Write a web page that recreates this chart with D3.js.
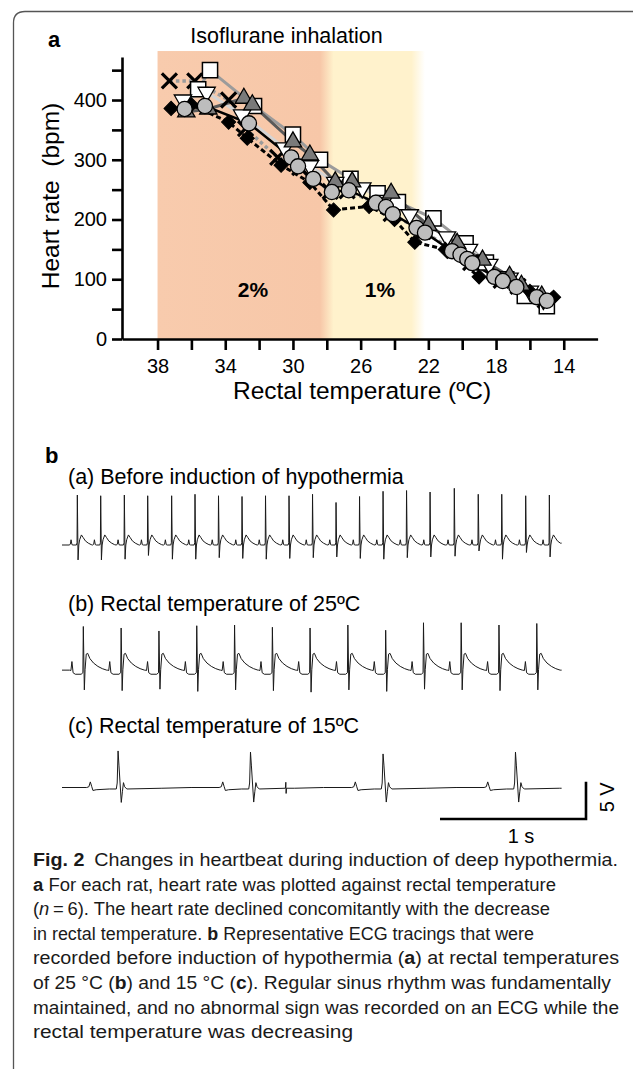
<!DOCTYPE html>
<html>
<head>
<meta charset="utf-8">
<script src="https://cdn.jsdelivr.net/npm/d3@7"></script>
<style>
  body { margin: 0; background: #fff; }
  text { font-family: "Liberation Sans", Arial, sans-serif; }
</style>
</head>
<body>
<div id="chart"></div>
<script>
// ---------- panel a data ----------
const xTicks = [38, 36, 34, 32, 30, 28, 26, 24, 22, 20, 18, 16, 14];
const xTickLabels = [38, 34, 30, 26, 22, 18, 14];
const yTicks = [0, 50, 100, 150, 200, 250, 300, 350, 400, 450];
const yTickLabels = [0, 100, 200, 300, 400];

// isoflurane shading (temperatures where the colour changes)
const shadeTemps = [38, 28.4, 27.6, 23.0, 22.2];
const shadeColors = ['#f8cbad', '#f7c7a8', '#fff2cc', '#fff2cc', '#ffffff'];

// rat 1 - crosses
const crossTemp = [37.3, 35.8, 33.8, 32.8, 30.9, 29.6, 27.8, 26.8, 25.0, 24.2, 22.3, 20.5, 19.5, 17.7, 16.7, 15.1];
const crossHr   = [432, 432, 400, 352, 304, 287, 247, 248, 227, 210, 180, 148, 128, 98, 88, 65];
// rat 2 - white squares
const squareTemp = [35.6, 34.9, 32.3, 30.0, 28.4, 26.6, 25.0, 23.8, 21.7, 19.8, 18.6, 17.4, 16.3, 15.0];
const squareHr   = [418, 450, 390, 342, 300, 268, 244, 229, 202, 160, 128, 100, 72, 55];
// rat 3 - white inverted triangles
const invTriTemp = [36.5, 35.1, 33.0, 30.5, 29.0, 27.5, 25.9, 24.6, 23.1, 20.9, 19.6, 18.4, 17.2, 16.0, 15.2];
const invTriHr   = [400, 413, 375, 320, 290, 262, 253, 232, 208, 171, 150, 125, 102, 80, 66];
// rat 4 - black diamonds
const diamondTemp = [37.2, 36.0, 33.8, 32.7, 30.7, 29.0, 27.6, 25.5, 24.0, 22.8, 21.0, 19.0, 17.5, 16.0, 14.6];
const diamondHr   = [386, 392, 363, 336, 291, 262, 216, 222, 200, 162, 150, 104, 98, 80, 70];
// rat 5 - gray triangles
const triTemp = [36.3, 35.0, 32.9, 32.4, 30.0, 29.0, 27.5, 26.5, 24.2, 22.0, 20.3, 18.8, 17.2, 16.5, 15.3];
const triHr   = [380, 385, 403, 392, 330, 308, 263, 263, 244, 190, 160, 132, 105, 90, 72];
// rat 6 - gray circles
const circleTemp = [36.4, 35.2, 32.6, 30.1, 29.7, 28.8, 27.7, 26.7, 25.1, 24.5, 24.1, 22.7, 22.2, 20.6, 20.1, 19.7, 19.4, 18.1, 17.6, 16.8, 15.6, 15.0];
const circleHr   = [385, 390, 361, 304, 289, 268, 246, 249, 228, 221, 209, 186, 178, 147, 141, 134, 127, 104, 97, 87, 70, 64];

// ---------- panel b data (ECG) ----------
// R-peak times (s), R and S amplitudes (V) read per beat
const ecgAR    = [0.105, 0.265, 0.427, 0.587, 0.751, 0.911, 1.072, 1.233, 1.394, 1.555, 1.716, 1.877, 2.038, 2.199, 2.360, 2.521, 2.687, 2.851, 3.012, 3.176, 3.338];
const ecgARAmp = [6.7, 6.6, 6.7, 6.6, 6.6, 6.8, 6.6, 6.5, 6.6, 6.6, 6.8, 5.7, 6.5, 7.2, 7.3, 7.1, 7.6, 6.8, 6.8, 6.6, 6.7];
const ecgASAmp = [-2.0, -2.0, -1.9, -1.4, -1.9, -1.9, -1.7, -1.8, -1.9, -1.8, -1.7, -1.6, -1.8, -1.9, -1.7, -1.6, -1.5, -0.8, -1.9, -1.0, -1.6];
// beat shape: [time from R (s), value (V)]; 'R' / 'S' take the beat's own amplitude
const ecgAShape = [[-0.056, 0], [-0.048, 0.1], [-0.043, 0.7], [-0.037, 0.05], [-0.03, 0], [-0.006, 0], [-0.002, 0.3],
  [0, 'R'], [0.005, 'S'], [0.01, 0], [0.016, 0.7], [0.028, 1.35], [0.04, 1.0], [0.055, 0.55], [0.075, 0.25], [0.095, 0.05], [0.105, 0]];

const ecgBR    = [0.146, 0.405, 0.664, 0.923, 1.182, 1.441, 1.699, 1.958, 2.217, 2.476, 2.734, 2.993, 3.252];
const ecgBRAmp = [6.1, 5.9, 5.5, 6.2, 6.3, 6.0, 5.9, 6.3, 5.6, 6.6, 6.6, 6.3, 6.5];
const ecgBSAmp = [-2.4, -2.5, -2.3, -2.6, -2.4, -2.5, -2.7, -2.4, -2.6, -2.3, -2.4, -2.5, -2.4];
const ecgBShape = [[-0.095, 0.25], [-0.085, 0.2], [-0.078, 1.4], [-0.07, -0.1], [-0.055, -0.3], [-0.015, -0.3], [-0.003, -0.1],
  [0, 'R'], [0.007, 'S'], [0.012, 0.3], [0.02, 2.4], [0.03, 2.5], [0.045, 1.8], [0.07, 1.2], [0.1, 0.75], [0.13, 0.45], [0.16, 0.25]];

const ecgCR    = [0.384, 1.291, 2.199, 3.106];
const ecgCRAmp = [4.9, 4.75, 4.5, 4.75];
const ecgCSAmp = [-2.0, -1.95, -1.95, -1.95];
const ecgCShape = [[-0.215, 0], [-0.2, 0.1], [-0.19, 0.75], [-0.18, 0.1], [-0.172, -0.4], [-0.15, -0.3], [-0.06, -0.2], [-0.012, -0.2], [-0.006, 0.6],
  [0, 'R'], [0.006, 3.0], [0.022, 'S'], [0.03, -0.5], [0.037, 0.65], [0.045, 0.1], [0.06, -0.2], [0.3, -0.1], [0.5, 0]];
const ecgCGlitch = [[1.530, -0.1], [1.533, 0.7], [1.535, -0.8], [1.538, -0.1]];

const traceEnd = 3.422;      // s
const barStart = 2.589;      // s, start of the 1 s bar
const barSeconds = 1;
const barVolts = 5;

const captionLines = [
  [['Fig. 2', 'b'], ['\u2002Changes in heartbeat during induction of deep hypothermia.', '']],
  [['a', 'b'], [' For each rat, heart rate was plotted against rectal temperature', '']],
  [['(', ''], ['n', 'i'], ['\u2009=\u20096). The heart rate declined concomitantly with the decrease', '']],
  [['in rectal temperature. ', ''], ['b', 'b'], [' Representative ECG tracings that were', '']],
  [['recorded before induction of hypothermia (', ''], ['a', 'b'], [') at rectal temperatures', '']],
  [['of 25\u00a0°C (', ''], ['b', 'b'], [') and 15\u00a0°C (', ''], ['c', 'b'], ['). Regular sinus rhythm was fundamentally', '']],
  [['maintained, and no abnormal sign was recorded on an ECG while the', '']],
  [['rectal temperature was decreasing', '']]
];
const captionEnds = [618, 556, 550, 534, 619, 611, 619, 353];

// ---------- drawing ----------
const svg = d3.select('#chart').append('svg')
  .attr('width', 633)
  .attr('height', 1069);

// frame
svg.append('path')
  .attr('d', 'M13.5,1069V23Q13.5,11.5 25,11.5H633')
  .attr('fill', 'none')
  .attr('stroke', '#555')
  .attr('stroke-width', 1.3);

const x = d3.scaleLinear().domain([40.1, 12]).range([122, 597.6]);
const y = d3.scaleLinear().domain([0, 472]).range([339, 57]);

// shading
const grad = svg.append('defs').append('linearGradient')
  .attr('id', 'iso')
  .attr('gradientUnits', 'userSpaceOnUse')
  .attr('x1', x(shadeTemps[0])).attr('x2', x(shadeTemps[shadeTemps.length - 1]))
  .attr('y1', 0).attr('y2', 0);
const gx0 = x(shadeTemps[0]), gx1 = x(shadeTemps[shadeTemps.length - 1]);
shadeTemps.forEach((t, i) => {
  grad.append('stop')
    .attr('offset', (x(t) - gx0) / (gx1 - gx0))
    .attr('stop-color', shadeColors[i]);
});
svg.append('rect')
  .attr('x', gx0)
  .attr('y', y(482))
  .attr('width', gx1 - gx0)
  .attr('height', y(0) - y(482))
  .attr('fill', 'url(#iso)');

// series
const series = [
  { temp: crossTemp, hr: crossHr, sym: d3.symbolX, size: 150, fill: 'none', stroke: '#000', sw: 3.2, rot: 0, line: '#9b9b9b', lw: 3.5, dash: '3.5,3' },
  { temp: squareTemp, hr: squareHr, sym: d3.symbolSquare, size: 230, fill: '#fff', stroke: '#000', sw: 1.5, rot: 0, line: '#9b9b9b', lw: 3, dash: null },
  { temp: invTriTemp, hr: invTriHr, sym: d3.symbolTriangle, size: 130, fill: '#fff', stroke: '#000', sw: 1.3, rot: 180, line: '#d4d4d4', lw: 3, dash: null },
  { temp: diamondTemp, hr: diamondHr, sym: d3.symbolSquare, size: 100, fill: '#000', stroke: '#000', sw: 1, rot: 45, line: '#000', lw: 3, dash: '5,3' },
  { temp: triTemp, hr: triHr, sym: d3.symbolTriangle, size: 130, fill: '#7a7a7a', stroke: '#000', sw: 1.3, rot: 0, line: '#5a5a5a', lw: 3, dash: null },
  { temp: circleTemp, hr: circleHr, sym: d3.symbolCircle, size: 180, fill: '#bdbdbd', stroke: '#000', sw: 1.3, rot: 0, line: '#000', lw: 2.5, dash: null }
];

const hrLine = d3.line().x(d => x(d[0])).y(d => y(d[1]));
series.forEach(s => {
  svg.append('path')
    .attr('d', hrLine(d3.zip(s.temp, s.hr)))
    .attr('fill', 'none')
    .attr('stroke', s.line)
    .attr('stroke-width', s.lw)
    .attr('stroke-dasharray', s.dash);
});
series.forEach(s => {
  svg.append('g').selectAll('path')
    .data(d3.zip(s.temp, s.hr))
    .join('path')
    .attr('d', d3.symbol(s.sym, s.size))
    .attr('transform', d => `translate(${x(d[0])},${y(d[1])}) rotate(${s.rot})`)
    .attr('fill', s.fill)
    .attr('stroke', s.stroke)
    .attr('stroke-width', s.sw);
});

// axes
const xAxisG = svg.append('g')
  .attr('transform', `translate(0,${y(0)})`)
  .call(d3.axisBottom(x).tickValues(xTicks).tickSize(11).tickPadding(9).tickSizeOuter(0)
    .tickFormat(d => xTickLabels.includes(d) ? d : ''));
const yAxisG = svg.append('g')
  .attr('transform', `translate(${x(40.1)},0)`)
  .call(d3.axisLeft(y).tickValues(yTicks).tickSize(10).tickPadding(5).tickSizeOuter(0)
    .tickFormat(d => yTickLabels.includes(d) ? d : ''));
[xAxisG, yAxisG].forEach(g => {
  g.attr('font-family', '"Liberation Sans", Arial, sans-serif').attr('font-size', 20);
  g.selectAll('path, line').attr('stroke', '#000').attr('stroke-width', 2.6);
  g.selectAll('text').attr('fill', '#000');
});

svg.append('text').attr('x', 48).attr('y', 47)
  .attr('font-size', 22).attr('font-weight', 'bold').text('a');
svg.append('text').attr('x', 286.5).attr('y', 43)
  .attr('font-size', 21.5).attr('text-anchor', 'middle').text('Isoflurane inhalation');
svg.append('text').attr('x', 253).attr('y', 297)
  .attr('font-size', 21).attr('font-weight', 'bold').attr('text-anchor', 'middle').text('2%');
svg.append('text').attr('x', 380).attr('y', 297)
  .attr('font-size', 21).attr('font-weight', 'bold').attr('text-anchor', 'middle').text('1%');
svg.append('text').attr('x', 362).attr('y', 399)
  .attr('font-size', 24.5).attr('text-anchor', 'middle').text('Rectal temperature (ºC)');
svg.append('text')
  .attr('transform', `translate(59,${(y(0) + y(472)) / 2 - 2}) rotate(-90)`)
  .attr('font-size', 24.5).attr('text-anchor', 'middle')
  .style('white-space', 'pre')
  .text('Heart rate  (bpm)');

// ---------- panel b ----------
svg.append('text').attr('x', 45).attr('y', 463)
  .attr('font-size', 22).attr('font-weight', 'bold').text('b');

const tScale = d3.scaleLinear().domain([0, 1]).range([62, 208]);
const pxPerVolt = 7.46;

function buildTrace(rTimes, rAmp, sAmp, shape, extra) {
  let pts = [];
  rTimes.forEach((r, i) => {
    shape.forEach(([dt, v]) => {
      const val = v === 'R' ? rAmp[i] : v === 'S' ? sAmp[i] : v;
      pts.push([r + dt, val]);
    });
  });
  if (extra) pts = pts.concat(extra);
  pts = pts.filter(p => p[0] >= 0 && p[0] <= traceEnd).sort((a, b) => a[0] - b[0]);
  pts.unshift([0, pts[0][1]]);
  pts.push([traceEnd, pts[pts.length - 1][1]]);
  return pts;
}

const traces = [
  { label: '(a) Before induction of hypothermia', labelY: 484, base: 545, pts: buildTrace(ecgAR, ecgARAmp, ecgASAmp, ecgAShape) },
  { label: '(b) Rectal temperature of 25ºC', labelY: 611, base: 672, pts: buildTrace(ecgBR, ecgBRAmp, ecgBSAmp, ecgBShape) },
  { label: '(c) Rectal temperature of 15ºC', labelY: 733, base: 787.5, pts: buildTrace(ecgCR, ecgCRAmp, ecgCSAmp, ecgCShape, ecgCGlitch) }
];

traces.forEach(tr => {
  const amp = d3.scaleLinear().domain([0, 1]).range([tr.base, tr.base - pxPerVolt]);
  svg.append('text').attr('x', 68).attr('y', tr.labelY)
    .attr('font-size', 21.5).text(tr.label);
  svg.append('path')
    .attr('d', d3.line().x(d => tScale(d[0])).y(d => amp(d[1]))(tr.pts))
    .attr('fill', 'none')
    .attr('stroke', '#1a1a1a')
    .attr('stroke-width', 1)
    .attr('stroke-linejoin', 'round');
});

// scale bar
const barY = d3.scaleLinear().domain([0, 1]).range([819, 819 - pxPerVolt]);
svg.append('path')
  .attr('d', `M${tScale(barStart)},${barY(0)}H${tScale(barStart + barSeconds)}V${barY(barVolts)}`)
  .attr('fill', 'none')
  .attr('stroke', '#000')
  .attr('stroke-width', 2.6);
svg.append('text')
  .attr('x', tScale(barStart + barSeconds / 2) + 8).attr('y', 843)
  .attr('font-size', 20).attr('text-anchor', 'middle').text('1 s');
svg.append('text')
  .attr('transform', `translate(613.5,${barY(barVolts / 2) - 3}) rotate(-90)`)
  .attr('font-size', 20).attr('text-anchor', 'middle').text('5 V');

// ---------- caption ----------
captionLines.forEach((line, i) => {
  const t = svg.append('text')
    .attr('x', 33)
    .attr('y', 866 + i * 24.6)
    .attr('font-family', '"Open Sans", "Noto Sans", sans-serif')
    .attr('font-size', 17.5)
    .attr('fill', '#1a1a1a')
    .attr('textLength', captionEnds[i] - 33)
    .attr('lengthAdjust', 'spacingAndGlyphs');
  line.forEach(([str, st]) => {
    t.append('tspan')
      .attr('font-weight', st === 'b' ? 'bold' : null)
      .attr('font-style', st === 'i' ? 'italic' : null)
      .text(str);
  });
});
</script>
</body>
</html>
